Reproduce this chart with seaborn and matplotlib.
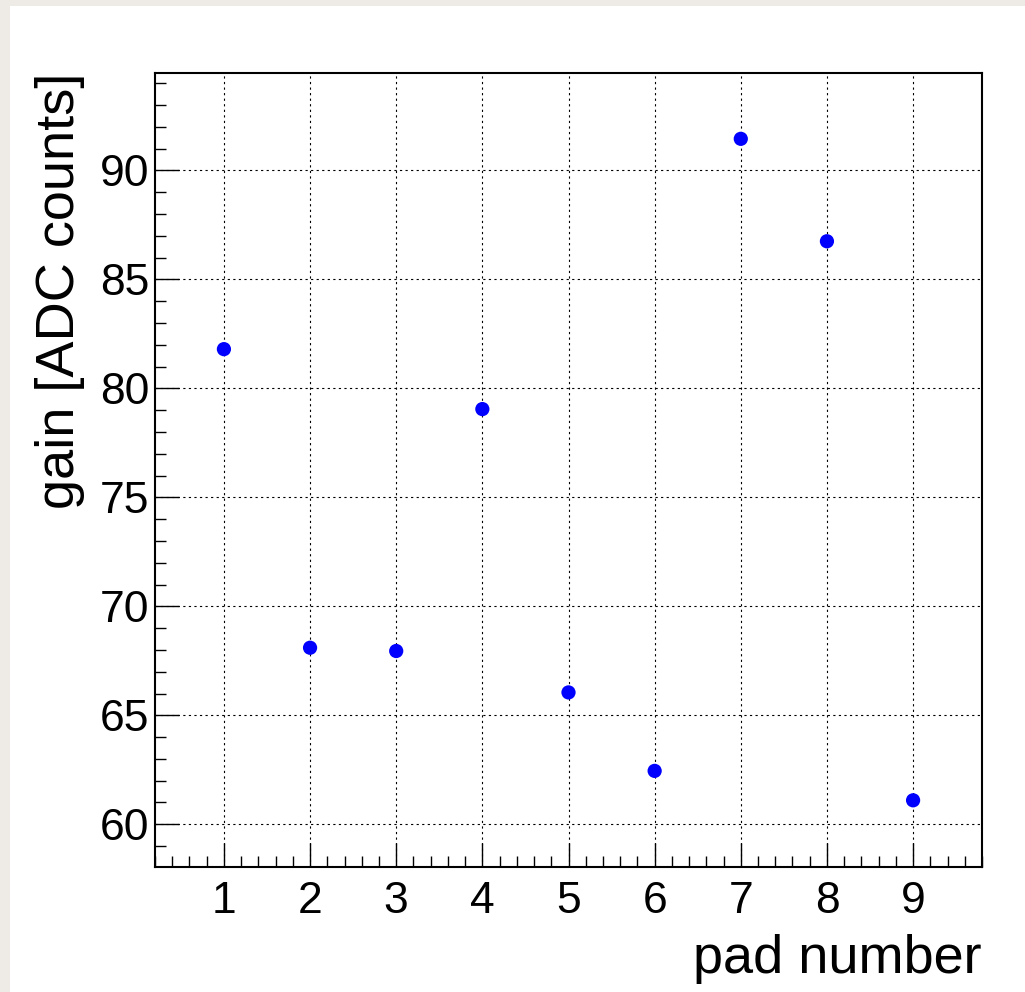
import numpy as np
import pandas as pd
import matplotlib
matplotlib.use("Agg")
import matplotlib.pyplot as plt
from matplotlib.patches import Rectangle
from matplotlib.ticker import MultipleLocator
import seaborn as sns

pads = [1, 2, 3, 4, 5, 6, 7, 8, 9]
gain = [81.8, 68.1, 67.95, 79.05, 66.05, 62.45, 91.45, 86.75, 61.1]

x_ticks = [1, 2, 3, 4, 5, 6, 7, 8, 9]
y_ticks = [60, 65, 70, 75, 80, 85, 90]

sns.set_theme(style="white")
plt.rcParams['font.family'] = ['Liberation Sans', 'DejaVu Sans']

df = pd.DataFrame({"pad": pads, "gain": gain})

fig = plt.figure(figsize=(10.25, 9.92), dpi=100)
fig.patch.set_facecolor("#EEEBE6")
fig.patches.append(Rectangle((10/1025, 0), 1 - 10/1025, 1 - 6/992,
                             transform=fig.transFigure, facecolor="white",
                             edgecolor="none", zorder=-10))
ax = fig.add_axes([155/1025, 1 - 867/992, (982-155)/1025, (867-73)/992])
ax.set_facecolor("white")

sns.scatterplot(data=df, x="pad", y="gain", ax=ax, color="#0000FF",
                s=105, edgecolor="none", zorder=3, legend=False)

ax.set_xlim(0.2, 9.8)
ax.set_ylim(58.04, 94.47)
ax.set_xticks(x_ticks)
ax.set_yticks(y_ticks)
ax.xaxis.set_minor_locator(MultipleLocator(0.2))
ax.yaxis.set_minor_locator(MultipleLocator(1))

ax.grid(True, which="major", color="black", linestyle=(0, (2, 3)), linewidth=0.8)
ax.set_axisbelow(True)

for sp in ax.spines.values():
    sp.set_visible(True)
    sp.set_color("black")
    sp.set_linewidth(1.5)

ax.tick_params(axis="both", which="major", direction="in", length=17, width=1.0,
               labelsize=32, colors="black", pad=10, top=False, right=False,
               bottom=True, left=True)
ax.tick_params(axis="both", which="minor", direction="in", length=8, width=1.0,
               top=False, right=False, bottom=True, left=True, colors="black")
ax.tick_params(axis="y", which="major", pad=4)

ax.set_xlabel("pad number", fontsize=39, loc="right", color="black")
ax.set_ylabel("gain [ADC counts]", fontsize=39, loc="top", color="black")
ax.xaxis.set_label_coords(1.0, -0.084)
ax.yaxis.set_label_coords(-0.085, 1.0)

fig.savefig("out.png", dpi=100, facecolor=fig.get_facecolor())
